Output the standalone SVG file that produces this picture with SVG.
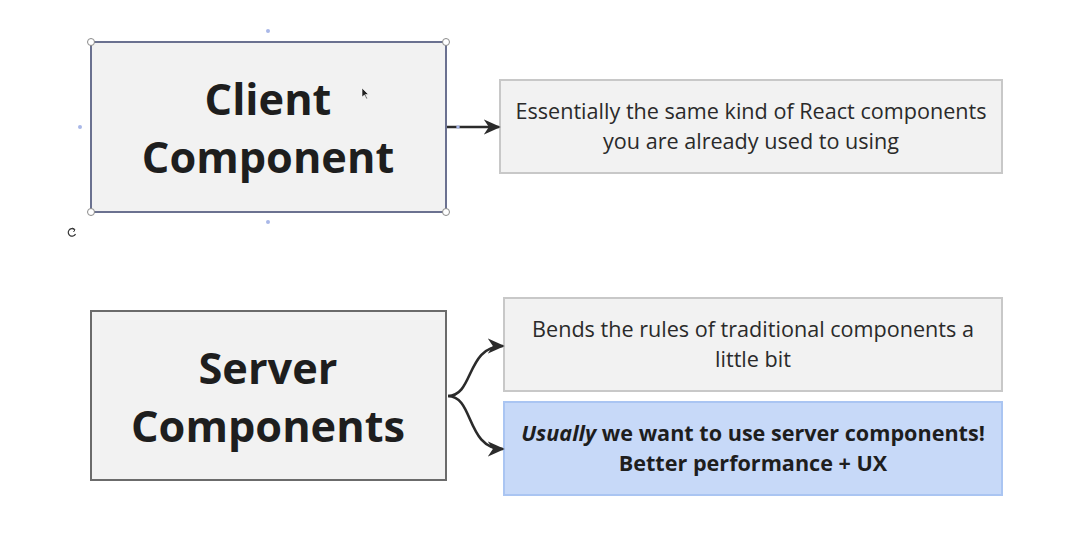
<svg xmlns="http://www.w3.org/2000/svg" width="1090" height="533" viewBox="0 0 1090 533">
<defs>
<style>
.big{font-family:"Open Sans","Noto Sans",sans-serif;font-weight:700;font-size:43.3px;fill:#1e1e1e;text-anchor:middle}
.txt{font-family:"Open Sans","Noto Sans",sans-serif;font-size:21.6px;fill:#2a2a2a;text-anchor:middle}
.bold{font-weight:700;fill:#1e1e1e}
.main{fill:#f2f2f2;stroke:#6b6b6b;stroke-width:2}
.note{fill:#f2f2f2;stroke:#c8c8c8;stroke-width:2}
.blue{fill:#c7d9f8;stroke:#aac5f2;stroke-width:2}
.conn{fill:none;stroke:#2b2b2b;stroke-width:2.6}
.handle{fill:#fff;stroke:#8a8a8a;stroke-width:1}
.dot{fill:#a9b8e8}
</style>
<marker id="ah" viewBox="0 0 10 9" refX="9" refY="4.5" markerWidth="6.5" markerHeight="5.9" orient="auto" markerUnits="strokeWidth">
<path d="M0,0 L10,4.5 L0,9 L3,4.5 Z" fill="#2b2b2b"/>
</marker>
</defs>
<rect width="1090" height="533" fill="#fff"/>
<g id="client">
<rect class="main" x="91" y="42" width="355" height="170"/>
<rect x="91" y="42" width="355" height="170" fill="none" stroke="#6a78b8" stroke-width="1.2" opacity="0.8"/>
<text class="big" x="268" y="115">Client</text>
<text class="big" x="268" y="173">Component</text>
</g>
<g id="selection">
<circle class="handle" cx="91" cy="42" r="3.5"/>
<circle class="handle" cx="446" cy="42" r="3.5"/>
<circle class="handle" cx="91" cy="212" r="3.5"/>
<circle class="handle" cx="446" cy="212" r="3.5"/>
<circle class="dot" cx="268" cy="31" r="2"/>
<circle class="dot" cx="268" cy="222" r="2"/>
<circle class="dot" cx="80" cy="127" r="2"/>
<path d="M74.5,229.5 A3.8,3.8 0 1 0 75.5,234" fill="none" stroke="#333" stroke-width="1.2"/>
<path d="M72.5,228 L75,229.7 L73.5,232" fill="none" stroke="#333" stroke-width="1"/>
<path d="M362,88 L362,97 L364.5,95 L366.5,99 L367.5,98.5 L365.5,94.5 L368.5,94.5 Z" fill="#222" stroke="#fff" stroke-width="0.6"/>
</g>
<g id="client-note">
<rect class="note" x="500" y="80" width="502" height="93"/>
<text class="txt" x="751" y="119">Essentially the same kind of React components</text>
<text class="txt" x="751" y="149">you are already used to using</text>
</g>
<g id="server">
<rect class="main" x="91" y="311" width="355" height="169"/>
<text class="big" x="268" y="384">Server</text>
<text class="big" x="268" y="442">Components</text>
</g>
<g id="server-note">
<rect class="note" x="504" y="298" width="498" height="93"/>
<text class="txt" x="753" y="337">Bends the rules of traditional components a</text>
<text class="txt" x="753" y="367">little bit</text>
</g>
<g id="server-usually">
<rect class="blue" x="504" y="402" width="498" height="93"/>
<text class="txt bold" x="753" y="441"><tspan font-style="italic">Usually</tspan> we want to use server components!</text>
<text class="txt bold" x="753" y="471">Better performance + UX</text>
</g>
<g id="connectors">
<line class="conn" x1="447" y1="127" x2="499" y2="127" marker-end="url(#ah)"/>
<circle class="dot" cx="458" cy="127" r="1.8"/>
<path class="conn" d="M448,396 C474,396 466,346 503,346" marker-end="url(#ah)"/>
<path class="conn" d="M448,396 C474,396 466,449 503,449" marker-end="url(#ah)"/>
</g>
</svg>
